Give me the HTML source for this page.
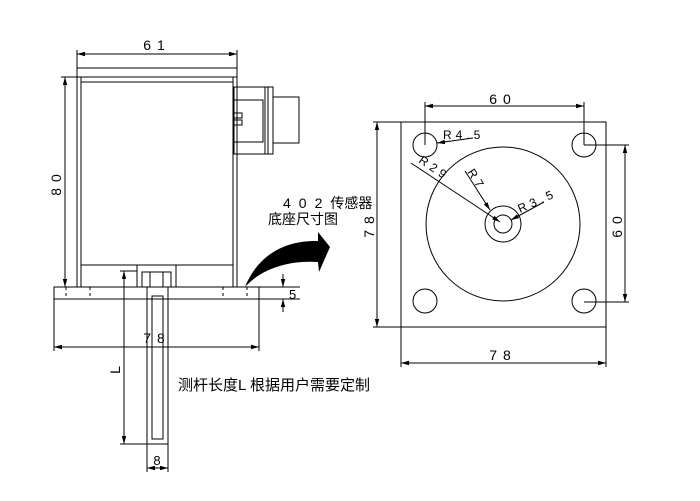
<!DOCTYPE html>
<html><head><meta charset="utf-8"><style>
body{margin:0;background:#fff}
svg text{font-family:"Liberation Sans","Noto Sans CJK SC",sans-serif;fill:#000}
</style></head><body>
<svg width="700" height="496" viewBox="0 0 700 496" xmlns="http://www.w3.org/2000/svg">
<defs><marker id="a" markerWidth="8" markerHeight="6" refX="8" refY="3" orient="auto-start-reverse" markerUnits="userSpaceOnUse"><path d="M0,0.8L8,3L0,5.2z" fill="#000"/></marker></defs>
<g stroke="#000" stroke-width="1" fill="none">
<rect x="77" y="68" width="160" height="9"/>
<line x1="77" y1="77" x2="77" y2="287"/><line x1="237" y1="77" x2="237" y2="287"/>
<line x1="81" y1="77" x2="81" y2="287"/><line x1="233" y1="77" x2="233" y2="287"/>
<line x1="81" y1="82" x2="233" y2="82"/><line x1="81" y1="265" x2="233" y2="265"/>
<rect x="54" y="287" width="205" height="12"/>
<g stroke-dasharray="3,3"><line x1="66" y1="287" x2="66" y2="299"/><line x1="90" y1="287" x2="90" y2="299"/><line x1="223" y1="287" x2="223" y2="299"/><line x1="247" y1="287" x2="247" y2="299"/></g>
<rect x="234" y="87" width="39" height="67"/>
<line x1="265" y1="87" x2="265" y2="154"/><line x1="268" y1="87" x2="268" y2="154"/>
<path d="M234,100H263V142H234"/>
<rect x="234" y="113" width="8" height="5"/><rect x="234" y="120" width="8" height="5"/>
<rect x="273" y="97" width="26" height="46"/>
<rect x="137" y="265" width="39" height="22"/>
<rect x="142" y="272" width="29" height="15"/>
<line x1="150" y1="272" x2="150" y2="287"/><line x1="163" y1="272" x2="163" y2="287"/>
<rect x="147" y="287" width="21" height="157"/>
<rect x="152" y="296" width="11" height="143"/>
<line x1="77" y1="54" x2="237" y2="54" marker-start="url(#a)" marker-end="url(#a)"/>
<line x1="77" y1="50" x2="77" y2="68"/><line x1="237" y1="50" x2="237" y2="68"/>
<line x1="65" y1="77" x2="65" y2="287" marker-start="url(#a)" marker-end="url(#a)"/>
<line x1="61" y1="77" x2="77" y2="77"/>
<line x1="54" y1="299" x2="54" y2="351"/><line x1="259" y1="299" x2="259" y2="351"/>
<line x1="54" y1="347" x2="259" y2="347" marker-start="url(#a)" marker-end="url(#a)"/>
<line x1="124" y1="271" x2="124" y2="444" marker-start="url(#a)" marker-end="url(#a)"/>
<line x1="120" y1="271" x2="137" y2="271"/><line x1="120" y1="444" x2="147" y2="444"/>
<line x1="147" y1="444" x2="147" y2="472"/><line x1="168" y1="444" x2="168" y2="472"/>
<line x1="147" y1="468" x2="168" y2="468" marker-start="url(#a)" marker-end="url(#a)"/>
<line x1="259" y1="287" x2="300" y2="287"/><line x1="259" y1="299" x2="300" y2="299"/>
<line x1="283" y1="274" x2="283" y2="287" marker-end="url(#a)"/><line x1="283" y1="312" x2="283" y2="299" marker-end="url(#a)"/>
<rect x="401" y="122" width="205" height="205"/>
<circle cx="503" cy="224" r="77"/><circle cx="503" cy="224" r="18"/><circle cx="503" cy="224" r="9"/>
<circle cx="425" cy="145" r="12"/><circle cx="584" cy="145" r="12"/><circle cx="425" cy="301" r="12"/><circle cx="584" cy="301" r="12"/>
<line x1="425" y1="106" x2="584" y2="106" marker-start="url(#a)" marker-end="url(#a)"/>
<line x1="425" y1="102" x2="425" y2="145"/><line x1="584" y1="102" x2="584" y2="145"/>
<line x1="584" y1="145" x2="629" y2="145"/><line x1="584" y1="302" x2="629" y2="302"/>
<line x1="625" y1="145" x2="625" y2="302" marker-start="url(#a)" marker-end="url(#a)"/>
<line x1="373" y1="122" x2="401" y2="122"/><line x1="373" y1="327" x2="401" y2="327"/>
<line x1="377" y1="122" x2="377" y2="327" marker-start="url(#a)" marker-end="url(#a)"/>
<line x1="401" y1="327" x2="401" y2="367"/><line x1="606" y1="327" x2="606" y2="367"/>
<line x1="401" y1="363" x2="606" y2="363" marker-start="url(#a)" marker-end="url(#a)"/>
<line x1="473" y1="138" x2="437" y2="143" marker-end="url(#a)"/>
<line x1="411" y1="163" x2="500" y2="222" marker-end="url(#a)"/>
<line x1="465" y1="171" x2="490" y2="210" marker-end="url(#a)"/>
<line x1="544" y1="202" x2="511" y2="220" marker-end="url(#a)"/>
</g>
<path d="M245,287C258,255 285,240 318,241L318,232L330,247L319,272L318,262C290,260 262,268 245,287Z" fill="#000"/>
<g font-size="14">
<text x="157" y="50" text-anchor="middle" letter-spacing="6">61</text>
<text x="157" y="343" text-anchor="middle" letter-spacing="6">78</text>
<text x="157" y="465" text-anchor="middle" font-size="13">8</text>
<text x="289" y="299" font-size="13">5</text>
<text transform="translate(61,182) rotate(-90)" text-anchor="middle" letter-spacing="6">80</text>
<text transform="translate(120,370) rotate(-90)" text-anchor="middle">L</text>
<text x="503" y="104" text-anchor="middle" letter-spacing="6">60</text>
<text x="503" y="360" text-anchor="middle" letter-spacing="6">78</text>
<text transform="translate(622,224) rotate(-90)" text-anchor="middle" letter-spacing="6">60</text>
<text transform="translate(374,224) rotate(-90)" text-anchor="middle" letter-spacing="6">78</text>
<text x="443" y="139" font-size="12" letter-spacing="4">R4.5</text>
<text transform="translate(418,162) rotate(34)" font-size="12" letter-spacing="4">R29</text>
<text transform="translate(467,172) rotate(58)" font-size="12" letter-spacing="4">R7</text>
<text transform="translate(520,213) rotate(-24)" font-size="12" letter-spacing="4">R3.5</text>
<text x="283" y="208" font-size="14"><tspan letter-spacing="8">402</tspan>传感器</text>
<text x="268" y="224" font-size="14">底座尺寸图</text>
<text x="178" y="390" font-size="15">测杆长度L 根据用户需要定制</text>
</g>
</svg>
</body></html>
